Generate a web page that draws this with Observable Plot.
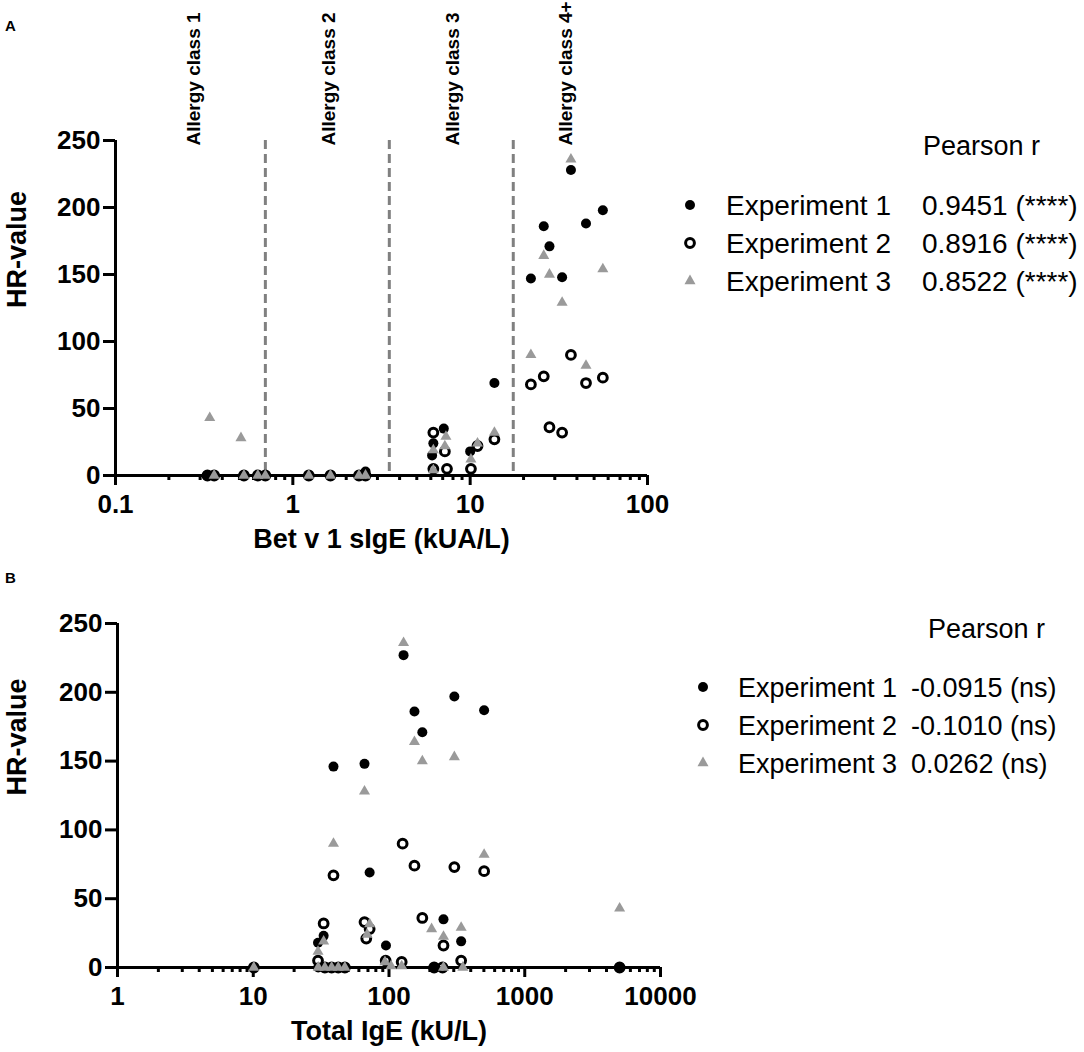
<!DOCTYPE html>
<html>
<head>
<meta charset="utf-8">
<script src="https://cdn.jsdelivr.net/npm/d3@7"></script>
<script src="https://cdn.jsdelivr.net/npm/@observablehq/plot@0.6"></script>
<style>
  html, body { margin: 0; padding: 0; background: #fff; }
  #wrap { position: relative; width: 1084px; height: 1052px; background: #fff; overflow: hidden; }
  .panel { position: absolute; left: 0; }
  #overlay { position: absolute; left: 0; top: 0; pointer-events: none; }
</style>
</head>
<body>
<div id="wrap">
  <div id="pa" class="panel" style="top:0px"></div>
  <div id="pb" class="panel" style="top:560px"></div>
  <svg id="overlay" width="1084" height="1052"></svg>
</div>
<script>
// ---------- DATA ----------
// Panel A: Bet v 1 sIgE (kUA/L) vs HR-value
const aExp1X = [37, 56, 45, 26, 28, 22, 33, 13.7, 7.1, 6.2, 6.1, 10, 0.33, 0.36, 0.53, 0.635, 0.70, 1.23, 1.63, 2.36, 2.57];
const aExp1Y = [228, 198, 188, 186, 171, 147, 148, 69, 35, 24, 15, 18, 0, 0, 0, 0, 0, 0, 0, 0, 3];
const aExp2X = [37, 26, 22, 45, 56, 28, 33, 13.7, 6.2, 7.2, 11, 7.4, 6.2, 10.1, 0.33, 0.36, 0.53, 0.635, 0.70, 1.23, 1.63, 2.36, 2.57];
const aExp2Y = [90, 74, 68, 69, 73, 36, 32, 27, 32, 18, 22, 5, 5, 5, 0, 0, 0, 0, 0, 0, 0, 0, 0];
const aExp3X = [37, 26, 28, 56, 33, 22, 45, 13.7, 11, 10.1, 7.3, 7.2, 6.2, 6.2, 0.34, 0.51, 0.36, 0.53, 0.635, 0.70, 1.23, 1.63, 2.36, 2.57];
const aExp3Y = [236, 164, 150, 154, 129, 90, 82, 32, 24, 12, 29, 22, 19, 4, 43, 28, 0, 0, 0, 0, 0, 0, 0, 0];

// Panel B: Total IgE (kU/L) vs HR-value
const bExp1X = [128, 303, 502, 154, 176, 66, 39, 72, 252, 33, 30, 95, 340, 10.1, 30.1, 33.7, 37.8, 42.3, 47.3, 215, 5000];
const bExp1Y = [227, 197, 187, 186, 171, 148, 146, 69, 35, 23, 18, 16, 19, 0, 0, 0, 0, 0, 0, 0, 0];
const bExp2X = [126, 154, 303, 502, 39, 176, 33, 66, 72, 68, 252, 30, 94.5, 124, 340, 10.1, 33.7, 37.8, 42.3, 47.3, 215, 248, 5000];
const bExp2Y = [90, 74, 73, 70, 67, 36, 32, 33, 28, 21, 16, 5, 5, 4, 5, 0, 0, 0, 0, 0, 0, 0, 0];
const bExp3X = [128, 154, 176, 303, 66, 39, 502, 206, 252, 340, 72, 69, 33, 30, 93.4, 103.5, 124, 5000, 10.1, 30.1, 33.7, 37.8, 42.3, 47.3, 252, 350];
const bExp3Y = [236, 164, 150, 153, 128, 90, 82, 28, 22.5, 29, 31.5, 24, 19, 11.6, 4, 1, 1, 43, 0, 0, 0, 0, 0, 0, 0, 0];

// Axes / annotations
const yTicks = [0, 50, 100, 150, 200, 250];
const aXMajor = [0.1, 1, 10, 100];
const bXMajor = [1, 10, 100, 1000, 10000];
const classBounds = [0.7, 3.5, 17.5];
const classLabels = ["Allergy class 1", "Allergy class 2", "Allergy class 3", "Allergy class 4+"];
const classLabelX = [0.275, 1.59, 7.96, 34.5];

// Legend
const expNames = ["Experiment 1", "Experiment 2", "Experiment 3"];
const pearsonA = ["0.9451 (****)", "0.8916 (****)", "0.8522 (****)"];
const pearsonB = ["-0.0915 (ns)", "-0.1010 (ns)", "0.0262 (ns)"];

// ---------- HELPERS ----------
const FONT = "Arial, 'Liberation Sans', Helvetica, sans-serif";
const GRAY_TRI = "#9a9a9a";
const R1 = 5, R2 = 4.4, SW2 = 3, R3 = 4.1;
const minorTicks = (majors) => {
  const out = [];
  for (let i = 0; i < majors.length - 1; i++) for (let k = 2; k <= 9; k++) out.push(majors[i] * k);
  return out;
};
const pts = (xs, ys) => xs.map((x, i) => ({x, y: ys[i]}));

function panel(opts) {
  const {height, marginTop, marginLeft, marginRight, marginBottom, xMajor, xTitle, e1, e2, e3, extra} = opts;
  const dom = [xMajor[0], xMajor[xMajor.length - 1]];
  return Plot.plot({
    width: 720, height, marginTop, marginLeft, marginRight, marginBottom,
    style: {fontFamily: FONT, background: "transparent", overflow: "visible", color: "black"},
    x: {type: "log", domain: dom, axis: null},
    y: {domain: [0, 250], axis: null},
    marks: [
      ...(extra || []),
      Plot.ruleY([0], {stroke: "black", strokeWidth: 3}),
      Plot.ruleX([dom[0]], {stroke: "black", strokeWidth: 3}),
      Plot.axisX({ticks: xMajor, tickSize: 10, tickPadding: 9, tickFormat: d => String(d), fontSize: 26, fontWeight: "bold", strokeWidth: 3, label: null}),
      Plot.axisX({ticks: minorTicks(xMajor), tickSize: 5, tickFormat: () => "", strokeWidth: 3, label: null}),
      Plot.axisY({ticks: yTicks, tickSize: 12, tickPadding: 3, fontSize: 26, fontWeight: "bold", strokeWidth: 3, label: null}),
      Plot.text(["HR-value"], {frameAnchor: "left", rotate: -90, dx: -marginLeft + 17, lineAnchor: "middle", fontSize: 27, fontWeight: "bold", fill: "black"}),
      Plot.text([xTitle], {frameAnchor: "bottom", dy: 64, lineAnchor: "middle", fontSize: 27, fontWeight: "bold", fill: "black"}),
      Plot.dot(e1, {x: "x", y: "y", r: R1, fill: "black", stroke: "none"}),
      Plot.dot(e2, {x: "x", y: "y", r: R2, fill: "none", stroke: "black", strokeWidth: SW2}),
      Plot.dot(e3, {x: "x", y: "y", r: R3, symbol: "triangle", fill: GRAY_TRI, stroke: "none"})
    ]
  });
}

// ---------- PANEL A ----------
const classData = classLabels.map((t, i) => ({t, x: classLabelX[i]}));
const plotA = panel({
  height: 560, marginTop: 140, marginLeft: 115, marginRight: 73, marginBottom: 85,
  xMajor: aXMajor, xTitle: "Bet v 1 sIgE (kUA/L)",
  e1: pts(aExp1X, aExp1Y), e2: pts(aExp2X, aExp2Y), e3: pts(aExp3X, aExp3Y),
  extra: [
    Plot.ruleX(classBounds, {stroke: "#808080", strokeWidth: 3, strokeDasharray: "9,5"}),
    Plot.text(classData, {x: "x", y: () => 250, text: "t", rotate: -90, textAnchor: "start", lineAnchor: "middle", dy: 5, fontSize: 19, fontWeight: "bold", fill: "black"})
  ]
});
document.getElementById("pa").appendChild(plotA);

// ---------- PANEL B ----------
const plotB = panel({
  height: 492, marginTop: 63, marginLeft: 117, marginRight: 60, marginBottom: 85,
  xMajor: bXMajor, xTitle: "Total IgE (kU/L)",
  e1: pts(bExp1X, bExp1Y), e2: pts(bExp2X, bExp2Y), e3: pts(bExp3X, bExp3Y)
});
document.getElementById("pb").appendChild(plotB);

// ---------- LEGENDS & PANEL LETTERS ----------
const ov = d3.select("#overlay");
ov.attr("font-family", FONT);
ov.append("text").attr("x", 5).attr("y", 31).attr("font-size", 15).attr("font-weight", "bold").text("A");
ov.append("text").attr("x", 5).attr("y", 583).attr("font-size", 15).attr("font-weight", "bold").text("B");

function legend(cfg, values) {
  const fs = cfg.fs, base = fs * 0.358;
  ov.append("text").attr("x", cfg.headX).attr("y", cfg.headY + base).attr("font-size", 27).text("Pearson r");
  expNames.forEach((name, i) => {
    const cy = cfg.rowY[i];
    if (i === 0) ov.append("circle").attr("cx", cfg.symX).attr("cy", cy).attr("r", R1).attr("fill", "black");
    if (i === 1) ov.append("circle").attr("cx", cfg.symX).attr("cy", cy).attr("r", R2).attr("fill", "none").attr("stroke", "black").attr("stroke-width", SW2);
    if (i === 2) ov.append("path").attr("transform", `translate(${cfg.symX},${cy})`).attr("d", d3.symbol(d3.symbolTriangle, Math.PI * R3 * R3)()).attr("fill", GRAY_TRI);
    ov.append("text").attr("x", cfg.textX).attr("y", cy + base).attr("font-size", fs).text(name);
    ov.append("text").attr("x", cfg.valX).attr("y", cy + base).attr("font-size", fs).text(values[i]);
  });
}
legend({fs: 28, headX: 923, headY: 145, symX: 690, textX: 726, valX: 922, rowY: [205, 243, 281]}, pearsonA);
legend({fs: 27, headX: 928, headY: 628, symX: 703, textX: 738, valX: 911, rowY: [687, 725, 763]}, pearsonB);
</script>
</body>
</html>
